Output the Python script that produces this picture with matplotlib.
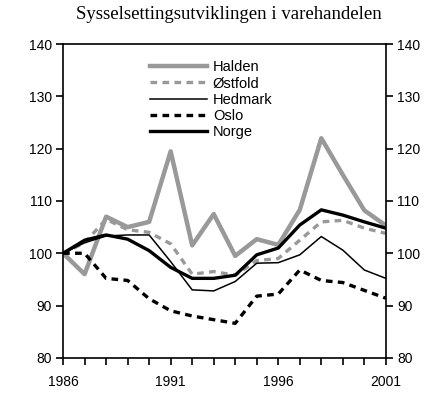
import matplotlib
matplotlib.use("Agg")
import matplotlib.pyplot as plt
from matplotlib.ticker import FixedLocator, MultipleLocator

plt.rcParams['font.family'] = ['Liberation Sans', 'DejaVu Sans']

years = list(range(1986, 2002))
halden = [100, 96, 107, 105, 106, 119.5, 101.5, 107.5, 99.5, 102.7, 101.6, 108.3, 122, 115, 108.2, 105.3]
ostfold = [100, 102, 106.5, 104.5, 104, 101.8, 96, 96.5, 95.8, 98.6, 99, 102.5, 106, 106.3, 104.8, 103.8]
hedmark = [100, 102, 103.3, 103.5, 103.5, 98.4, 93, 92.8, 94.6, 98.1, 98.2, 99.7, 103.2, 100.6, 96.8, 95.2]
oslo = [100, 100, 95.2, 94.8, 91.3, 89, 88, 87.3, 86.6, 91.8, 92.2, 96.8, 94.8, 94.4, 92.9, 91.4]
norge = [100, 102.5, 103.5, 102.7, 100.5, 97.3, 95.2, 95.2, 95.8, 99.7, 101, 105.4, 108.3, 107.3, 106, 104.8]
xlabels = [1986, 1991, 1996, 2001]

fig = plt.figure(figsize=(4.35, 4.2), dpi=100)
ax = fig.add_axes([0.145, 0.148, 0.742, 0.747])

grey = '#999999'
ax.plot(years, halden, color=grey, lw=3.2, label='Halden')
ax.plot(years, ostfold, color=grey, lw=2.4, ls=(0, (2.0, 1.6)), label='Østfold')
ax.plot(years, hedmark, color='black', lw=1.1, label='Hedmark')
ax.plot(years, oslo, color='black', lw=2.4, ls=(0, (2.0, 1.6)), label='Oslo')
ax.plot(years, norge, color='black', lw=2.4, label='Norge')

ax.set_xlim(1986, 2001)
ax.set_ylim(80, 140)
ax.xaxis.set_major_locator(FixedLocator(xlabels))
ax.xaxis.set_minor_locator(MultipleLocator(1))
ax.yaxis.set_major_locator(MultipleLocator(10))
ax.tick_params(axis='both', which='both', direction='out', labelsize=10, width=1.2, color='black')
ax.tick_params(axis='x', which='both', length=5, pad=7)
ax.tick_params(axis='y', length=5, pad=3, right=True, labelright=True)
for s in ax.spines.values():
    s.set_linewidth(1.2)

leg = ax.legend(loc='upper left', bbox_to_anchor=(0.27, 0.948), frameon=False,
                fontsize=10.5, handlelength=3.9, handletextpad=0.4, labelspacing=0.15,
                borderpad=0, borderaxespad=0)

fig.text(0.527, 0.966, 'Sysselsettingsutviklingen i varehandelen', ha='center', va='center',
         family='Liberation Serif', fontsize=13.5)

fig.savefig('out.png', dpi=100)
